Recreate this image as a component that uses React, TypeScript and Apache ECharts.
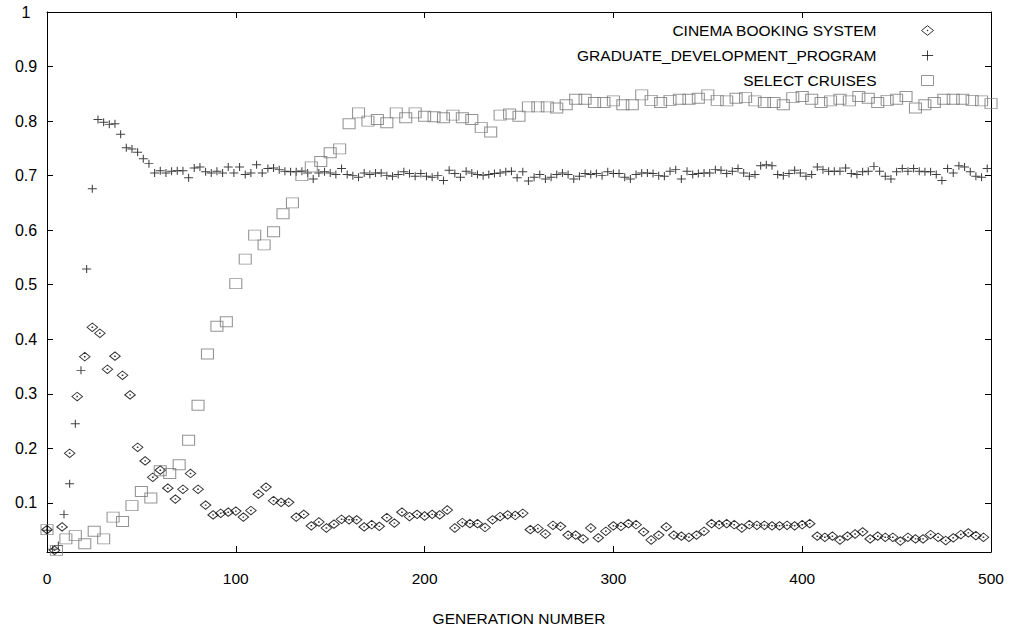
import React, { useEffect, useRef } from "react";
import * as echarts from "echarts";

// CINEMA BOOKING SYSTEM: one value every 4 generations (0..496)
const cinemaStep = 4;
const cinemaValues = [
  0.051, 0.013, 0.056, 0.191, 0.295, 0.368, 0.422, 0.411, 0.345, 0.369,
  0.334, 0.298, 0.202, 0.177, 0.147, 0.160, 0.127, 0.107, 0.125, 0.154,
  0.125, 0.096, 0.078, 0.081, 0.083, 0.085, 0.074, 0.086, 0.116, 0.129,
  0.104, 0.101, 0.101, 0.074, 0.079, 0.058, 0.065, 0.054, 0.061, 0.070,
  0.069, 0.069, 0.056, 0.060, 0.057, 0.073, 0.063, 0.083, 0.075, 0.079,
  0.076, 0.079, 0.078, 0.087, 0.054, 0.064, 0.062, 0.062, 0.055, 0.069,
  0.075, 0.078, 0.077, 0.081, 0.051, 0.053, 0.043, 0.059, 0.057, 0.041,
  0.041, 0.034, 0.054, 0.036, 0.048, 0.058, 0.057, 0.062, 0.060, 0.047,
  0.032, 0.041, 0.056, 0.041, 0.039, 0.037, 0.041, 0.048, 0.062, 0.060,
  0.062, 0.060, 0.054, 0.060, 0.059, 0.059, 0.058, 0.058, 0.059, 0.058,
  0.060, 0.062, 0.039, 0.037, 0.039, 0.032, 0.039, 0.043, 0.047, 0.034,
  0.039, 0.037, 0.037, 0.030, 0.037, 0.034, 0.034, 0.042, 0.037, 0.031,
  0.036, 0.042, 0.045, 0.040, 0.037,
];

// GRADUATE_DEVELOPMENT_PROGRAM: one value every 3 generations (0..498)
const graduateStep = 3;
const graduateValues = [
  0.050, 0.015, 0.022, 0.079, 0.135, 0.245, 0.343, 0.529, 0.676, 0.803,
  0.798, 0.794, 0.795, 0.776, 0.751, 0.749, 0.743, 0.731, 0.722, 0.705,
  0.709, 0.705, 0.708, 0.709, 0.709, 0.696, 0.714, 0.716, 0.707, 0.705,
  0.708, 0.705, 0.716, 0.705, 0.716, 0.702, 0.705, 0.720, 0.705, 0.713,
  0.714, 0.711, 0.708, 0.707, 0.707, 0.708, 0.705, 0.694, 0.705, 0.707,
  0.705, 0.702, 0.713, 0.702, 0.700, 0.697, 0.705, 0.702, 0.705, 0.705,
  0.700, 0.699, 0.702, 0.707, 0.704, 0.699, 0.704, 0.699, 0.697, 0.700,
  0.691, 0.710, 0.704, 0.697, 0.708, 0.705, 0.702, 0.700, 0.702, 0.704,
  0.705, 0.707, 0.708, 0.696, 0.707, 0.690, 0.697, 0.702, 0.694, 0.697,
  0.702, 0.705, 0.702, 0.694, 0.699, 0.704, 0.702, 0.704, 0.700, 0.707,
  0.704, 0.704, 0.697, 0.694, 0.702, 0.705, 0.705, 0.704, 0.700, 0.699,
  0.708, 0.711, 0.694, 0.708, 0.702, 0.704, 0.705, 0.705, 0.711, 0.710,
  0.704, 0.708, 0.713, 0.705, 0.699, 0.702, 0.718, 0.720, 0.718, 0.702,
  0.700, 0.704, 0.710, 0.705, 0.699, 0.702, 0.716, 0.711, 0.708, 0.708,
  0.708, 0.714, 0.704, 0.702, 0.707, 0.708, 0.717, 0.708, 0.699, 0.694,
  0.707, 0.713, 0.708, 0.713, 0.708, 0.707, 0.707, 0.702, 0.691, 0.713,
  0.705, 0.718, 0.716, 0.707, 0.699, 0.697, 0.713,
];

// SELECT CRUISES: one value every 5 generations (0..500)
const cruisesStep = 5;
const cruisesValues = [
  0.051, 0.013, 0.034, 0.040, 0.025, 0.048, 0.034, 0.074, 0.066, 0.095,
  0.121, 0.109, 0.159, 0.154, 0.170, 0.215, 0.279, 0.373, 0.424, 0.432,
  0.502, 0.547, 0.591, 0.573, 0.597, 0.630, 0.650, 0.700, 0.716, 0.726,
  0.742, 0.749, 0.795, 0.815, 0.800, 0.803, 0.797, 0.815, 0.806, 0.815,
  0.809, 0.808, 0.806, 0.811, 0.806, 0.803, 0.788, 0.780, 0.811, 0.813,
  0.809, 0.826, 0.826, 0.826, 0.824, 0.830, 0.840, 0.840, 0.834, 0.834,
  0.837, 0.830, 0.830, 0.848, 0.838, 0.834, 0.838, 0.840, 0.840, 0.842,
  0.848, 0.838, 0.837, 0.842, 0.843, 0.837, 0.834, 0.834, 0.830, 0.843,
  0.845, 0.840, 0.834, 0.837, 0.840, 0.837, 0.845, 0.842, 0.834, 0.838,
  0.840, 0.845, 0.824, 0.830, 0.834, 0.840, 0.840, 0.840, 0.838, 0.837,
  0.832,
];

const seriesNames = [
  "CINEMA BOOKING SYSTEM",
  "GRADUATE_DEVELOPMENT_PROGRAM",
  "SELECT CRUISES",
];
const yTickValues = [0.1, 0.2, 0.3, 0.4, 0.5, 0.6, 0.7, 0.8, 0.9, 1];
const xAxisName = "GENERATION NUMBER";

const FONT = "'Liberation Sans', Arial, sans-serif";
const DIAMOND = "path://M0,4.25L5.25,0L10.5,4.25L5.25,8.5ZM5,4L5.5,4L5.5,4.5L5,4.5Z";
const PLUS = "path://M0,4L9,4M4.5,0L4.5,8";
const SQUARE = "path://M0,0L12,0L12,10L0,10Z";

const toPoints = (vals: number[], step: number) => vals.map((v, i) => [i * step, v]);

export default function App() {
  const ref = useRef<HTMLDivElement>(null);
  useEffect(() => {
    const chart = echarts.init(ref.current!, null, { renderer: "svg" });
    const axisLine = { show: true, onZero: false, lineStyle: { color: "#000", width: 1 } };
    const tick = { show: true, inside: true, length: 6, lineStyle: { color: "#000", width: 1 } };
    const styles = [
      { color: "transparent", borderColor: "#000", borderWidth: 1 },
      { color: "transparent", borderColor: "#111", borderWidth: 1 },
      { color: "transparent", borderColor: "#7a7a7a", borderWidth: 1 },
    ];
    chart.setOption({
      animation: false,
      backgroundColor: "#fff",
      textStyle: { fontFamily: FONT },
      grid: { left: 47, right: 23, top: 12, bottom: 76, containLabel: false },
      legend: {
        orient: "vertical",
        right: 80,
        top: 22.5,
        align: "right",
        padding: 0,
        itemWidth: 12,
        itemHeight: 10,
        itemGap: 9,
        selectedMode: false,
        textStyle: {
          fontFamily: FONT,
          fontSize: 15.5,
          color: "#000",
          lineHeight: 16,
          padding: [0, 40, 0, 0],
        },
        data: [
          { name: seriesNames[0], icon: DIAMOND, itemStyle: styles[0] },
          { name: seriesNames[1], icon: PLUS, itemStyle: styles[1] },
          { name: seriesNames[2], icon: SQUARE, itemStyle: styles[2] },
        ],
      },
      xAxis: [
        {
          type: "value",
          min: 0,
          max: 500,
          interval: 100,
          position: "bottom",
          axisLine,
          axisTick: tick,
          splitLine: { show: false },
          axisLabel: { color: "#000", fontSize: 15.5, margin: 18, fontFamily: FONT },
          name: xAxisName,
          nameLocation: "middle",
          nameGap: 58,
          nameTextStyle: { color: "#000", fontSize: 15.5, fontFamily: FONT },
        },
        {
          type: "value",
          min: 0,
          max: 500,
          interval: 100,
          position: "top",
          axisLine,
          axisTick: tick,
          splitLine: { show: false },
          axisLabel: { show: false },
        },
      ],
      yAxis: [
        {
          type: "value",
          min: 0.01,
          max: 1,
          position: "left",
          axisLine,
          axisTick: { ...tick, customValues: yTickValues },
          splitLine: { show: false },
          axisLabel: {
            customValues: yTickValues,
            color: "#000",
            fontSize: 16,
            fontFamily: FONT,
            align: "center",
            margin: 21,
            formatter: (v: number) => (Math.abs(v - 1) < 1e-9 ? "1" : v.toFixed(1)),
          },
        },
        {
          type: "value",
          min: 0.01,
          max: 1,
          position: "right",
          axisLine,
          axisTick: { ...tick, customValues: yTickValues },
          splitLine: { show: false },
          axisLabel: { show: false },
        },
      ],
      series: [
        {
          name: seriesNames[0],
          type: "scatter",
          symbol: DIAMOND,
          symbolSize: [10.5, 8.5],
          itemStyle: styles[0],
          emphasis: { disabled: true },
          data: toPoints(cinemaValues, cinemaStep),
        },
        {
          name: seriesNames[1],
          type: "scatter",
          symbol: PLUS,
          symbolSize: [9, 8],
          itemStyle: styles[1],
          emphasis: { disabled: true },
          data: toPoints(graduateValues, graduateStep),
        },
        {
          name: seriesNames[2],
          type: "scatter",
          symbol: SQUARE,
          symbolSize: [12, 10],
          itemStyle: styles[2],
          emphasis: { disabled: true },
          data: toPoints(cruisesValues, cruisesStep),
        },
      ],
    });
    return () => chart.dispose();
  }, []);
  return (
    <div
      ref={ref}
      style={{ position: "absolute", left: 0, top: 0, width: 1014, height: 631, background: "#fff" }}
    />
  );
}
